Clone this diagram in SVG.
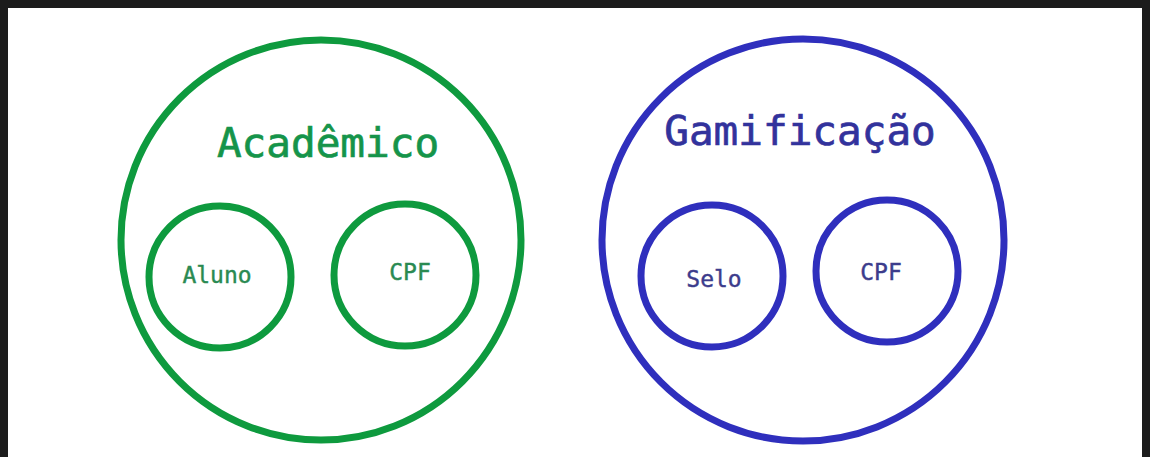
<svg xmlns="http://www.w3.org/2000/svg" width="1153" height="457" viewBox="0 0 1153 457">
  <style>
    .frame { fill: #ffffff; stroke: #1c1c1c; stroke-width: 8; }
    .g { fill: none; stroke: #0e9a3e; stroke-width: 7; }
    .b { fill: none; stroke: #2f2fbd; stroke-width: 7; }
    .t { font-family: "DejaVu Sans Mono", "Liberation Mono", monospace; text-anchor: middle; }
    .big { font-size: 41px; stroke-width: 0.7; }
    .small { font-size: 23px; stroke-width: 0.4; }
    .gt { fill: #15944a; stroke: #15944a; }
    .bt { fill: #32329c; stroke: #32329c; }
    .gs { fill: #2a8a52; stroke: #2a8a52; }
    .bs { fill: #3c3c8c; stroke: #3c3c8c; }
  </style>
  <rect class="frame" x="4" y="4" width="1142" height="480"/>

  <g id="academico">
    <circle class="g" cx="321" cy="240" r="200"/>
    <text class="t big gt" x="328" y="157">Acadêmico</text>
  </g>
  <g id="aluno">
    <circle class="g" cx="220" cy="277" r="71"/>
    <text class="t small gs" x="217" y="283">Aluno</text>
  </g>
  <g id="cpf-academico">
    <circle class="g" cx="405" cy="275" r="71"/>
    <text class="t small gs" x="410" y="280">CPF</text>
  </g>

  <g id="gamificacao">
    <circle class="b" cx="803" cy="240" r="201"/>
    <text class="t big bt" x="800" y="145">Gamificação</text>
  </g>
  <g id="selo">
    <circle class="b" cx="712" cy="276" r="71"/>
    <text class="t small bs" x="714" y="287">Selo</text>
  </g>
  <g id="cpf-gamificacao">
    <circle class="b" cx="887" cy="271" r="71"/>
    <text class="t small bs" x="881" y="280">CPF</text>
  </g>

  <g id="connectors"></g>
</svg>
